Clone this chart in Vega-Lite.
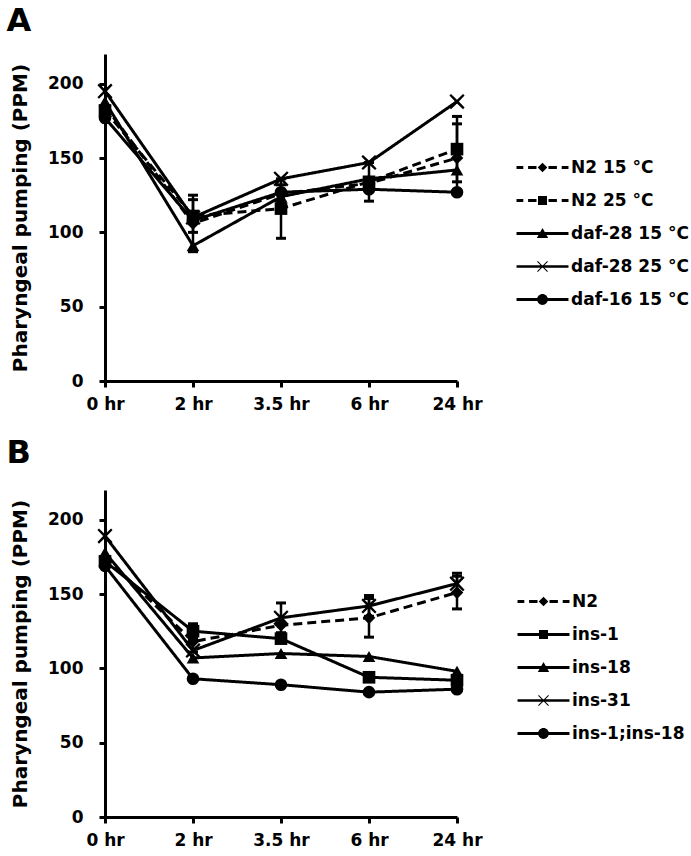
{
  "$schema": "https://vega.github.io/schema/vega-lite/v6.json",
  "padding": {"left": 6, "top": 5, "right": 5, "bottom": 5},
  "background": "white",
  "resolve": {"scale": {"strokeDash": "independent", "shape": "independent"}},
  "config": {
    "font": "DejaVu Sans",
    "view": {"stroke": null},
    "axis": {"domainColor": "black", "domainWidth": 3, "tickColor": "black", "tickWidth": 3, "tickSize": 6, "labelFont": "DejaVu Sans", "labelFontWeight": "bold", "labelFontSize": 17, "labelColor": "black", "titleFont": "DejaVu Sans", "titleFontWeight": "bold", "titleFontSize": 20, "titleColor": "black", "grid": false},
    "axisX": {"labelAngle": 0, "labelPadding": 9},
    "axisY": {"labelPadding": 16, "titlePadding": 17},
    "legend": {"labelFont": "DejaVu Sans", "labelFontWeight": "bold", "labelFontSize": 17, "labelColor": "black", "symbolSize": 144, "labelOffset": 20, "rowPadding": 15, "symbolFillColor": "black", "symbolStrokeWidth": 0, "symbolOpacity": 1},
    "concat": {"spacing": 25}
  },
  "datasets": {
    "a": [
      {"series": "N2 15 °C", "hr": "0 hr", "value": 185},
      {"series": "N2 15 °C", "hr": "2 hr", "value": 106, "lo": 87, "hi": 125},
      {"series": "N2 15 °C", "hr": "3.5 hr", "value": 126, "lo": 120, "hi": 132},
      {"series": "N2 15 °C", "hr": "6 hr", "value": 133},
      {"series": "N2 15 °C", "hr": "24 hr", "value": 150, "lo": 127, "hi": 173},
      {"series": "N2 25 °C", "hr": "0 hr", "value": 182},
      {"series": "N2 25 °C", "hr": "2 hr", "value": 111, "lo": 100, "hi": 122},
      {"series": "N2 25 °C", "hr": "3.5 hr", "value": 116, "lo": 96, "hi": 136},
      {"series": "N2 25 °C", "hr": "6 hr", "value": 134, "lo": 121, "hi": 147},
      {"series": "N2 25 °C", "hr": "24 hr", "value": 156, "lo": 134, "hi": 178},
      {"series": "daf-28 15 °C", "hr": "0 hr", "value": 188},
      {"series": "daf-28 15 °C", "hr": "2 hr", "value": 91},
      {"series": "daf-28 15 °C", "hr": "3.5 hr", "value": 124},
      {"series": "daf-28 15 °C", "hr": "6 hr", "value": 136},
      {"series": "daf-28 15 °C", "hr": "24 hr", "value": 142},
      {"series": "daf-28 25 °C", "hr": "0 hr", "value": 195},
      {"series": "daf-28 25 °C", "hr": "2 hr", "value": 110},
      {"series": "daf-28 25 °C", "hr": "3.5 hr", "value": 136},
      {"series": "daf-28 25 °C", "hr": "6 hr", "value": 147},
      {"series": "daf-28 25 °C", "hr": "24 hr", "value": 188},
      {"series": "daf-16 15 °C", "hr": "0 hr", "value": 177},
      {"series": "daf-16 15 °C", "hr": "2 hr", "value": 108},
      {"series": "daf-16 15 °C", "hr": "3.5 hr", "value": 127},
      {"series": "daf-16 15 °C", "hr": "6 hr", "value": 129},
      {"series": "daf-16 15 °C", "hr": "24 hr", "value": 127}
    ],
    "b": [
      {"series": "N2", "hr": "0 hr", "value": 175},
      {"series": "N2", "hr": "2 hr", "value": 118, "lo": 111, "hi": 125},
      {"series": "N2", "hr": "3.5 hr", "value": 129},
      {"series": "N2", "hr": "6 hr", "value": 134, "lo": 121, "hi": 147},
      {"series": "N2", "hr": "24 hr", "value": 151, "lo": 140, "hi": 162},
      {"series": "ins-1", "hr": "0 hr", "value": 172},
      {"series": "ins-1", "hr": "2 hr", "value": 125, "lo": 120, "hi": 130},
      {"series": "ins-1", "hr": "3.5 hr", "value": 120},
      {"series": "ins-1", "hr": "6 hr", "value": 94},
      {"series": "ins-1", "hr": "24 hr", "value": 92},
      {"series": "ins-18", "hr": "0 hr", "value": 178},
      {"series": "ins-18", "hr": "2 hr", "value": 107},
      {"series": "ins-18", "hr": "3.5 hr", "value": 110},
      {"series": "ins-18", "hr": "6 hr", "value": 108},
      {"series": "ins-18", "hr": "24 hr", "value": 98},
      {"series": "ins-31", "hr": "0 hr", "value": 189},
      {"series": "ins-31", "hr": "2 hr", "value": 112},
      {"series": "ins-31", "hr": "3.5 hr", "value": 134, "lo": 124, "hi": 144},
      {"series": "ins-31", "hr": "6 hr", "value": 142, "lo": 135, "hi": 149},
      {"series": "ins-31", "hr": "24 hr", "value": 157, "lo": 151, "hi": 164},
      {"series": "ins-1;ins-18", "hr": "0 hr", "value": 169},
      {"series": "ins-1;ins-18", "hr": "2 hr", "value": 93},
      {"series": "ins-1;ins-18", "hr": "3.5 hr", "value": 89},
      {"series": "ins-1;ins-18", "hr": "6 hr", "value": 84},
      {"series": "ins-1;ins-18", "hr": "24 hr", "value": 86}
    ]
  },
  "vconcat": [
    {
      "title": {"text": "A", "anchor": "start", "frame": "bounds", "fontSize": 32, "font": "DejaVu Sans", "fontWeight": "bold", "offset": 16, "dx": -4, "color": "black"},
      "width": 352, "height": 327,
      "data": {"name": "a"},
      "encoding": {
        "x": {"field": "hr", "type": "ordinal", "sort": ["0 hr", "2 hr", "3.5 hr", "6 hr", "24 hr"], "scale": {"type": "point", "padding": 0}, "axis": {"title": null}}
      },
      "layer": [
        {
          "mark": {"type": "line", "strokeWidth": 3, "color": "black"},
          "encoding": {
            "y": {"field": "value", "type": "quantitative", "title": "Pharyngeal pumping (PPM)", "scale": {"domain": [0, 220], "nice": false}, "axis": {"values": [0, 50, 100, 150, 200]}},
            "detail": {"field": "series"},
            "strokeDash": {"field": "series", "type": "nominal", "scale": {"domain": ["N2 15 °C", "N2 25 °C", "daf-28 15 °C", "daf-28 25 °C", "daf-16 15 °C"], "range": [[9, 5], [9, 5], [1, 0], [1, 0], [1, 0]]}, "legend": null}
          }
        },
        {
          "transform": [{"filter": "isValid(datum.hi)"}],
          "mark": {"type": "rule", "strokeWidth": 2.5, "color": "black"},
          "encoding": {
            "y": {"field": "lo", "type": "quantitative", "title": "Pharyngeal pumping (PPM)", "scale": {"domain": [0, 220], "nice": false}},
            "y2": {"field": "hi"}
          }
        },
        {
          "transform": [{"filter": "isValid(datum.hi)"}],
          "mark": {"type": "tick", "thickness": 3, "size": 10, "color": "black", "opacity": 1},
          "encoding": {"y": {"field": "hi", "type": "quantitative", "title": "Pharyngeal pumping (PPM)", "scale": {"domain": [0, 220], "nice": false}}}
        },
        {
          "transform": [{"filter": "isValid(datum.lo)"}],
          "mark": {"type": "tick", "thickness": 3, "size": 10, "color": "black", "opacity": 1},
          "encoding": {"y": {"field": "lo", "type": "quantitative", "title": "Pharyngeal pumping (PPM)", "scale": {"domain": [0, 220], "nice": false}}}
        },
        {
          "mark": {"type": "point", "filled": true, "color": "black", "size": 160, "opacity": 1},
          "encoding": {
            "y": {"field": "value", "type": "quantitative", "title": "Pharyngeal pumping (PPM)", "scale": {"domain": [0, 220], "nice": false}},
            "shape": {"field": "series", "type": "nominal", "scale": {"domain": ["N2 15 °C", "N2 25 °C", "daf-28 15 °C", "daf-28 25 °C", "daf-16 15 °C"], "range": ["diamond", "square", "triangle-up", "M-1.2,-0.95L-0.95,-1.2L0,-0.3L0.95,-1.2L1.2,-0.95L0.3,0L1.2,0.95L0.95,1.2L0,0.3L-0.95,1.2L-1.2,0.95L-0.3,0Z", "circle"]}, "legend": null}
          }
        },
        {
          "transform": [{"filter": "false"}],
          "mark": {"type": "point", "filled": true, "color": "black", "opacity": 1},
          "encoding": {
            "y": {"field": "value", "type": "quantitative", "title": "Pharyngeal pumping (PPM)", "scale": {"domain": [0, 220], "nice": false}},
            "shape": {"field": "series", "type": "nominal",
              "scale": {"domain": ["N2 15 °C", "N2 25 °C", "daf-28 15 °C", "daf-28 25 °C", "daf-16 15 °C"],
                "range": [
                  "M-4.33,-0.25H-3.2V0.25H-4.33Z M-2.4,-0.25H-1V0.25H-2.4Z M1,-0.25H2.4V0.25H1Z M3.2,-0.25H4.33V0.25H3.2Z M0,-0.8L0.8,0L0,0.8L-0.8,0Z",
                  "M-4.33,-0.25H-3.2V0.25H-4.33Z M-2.4,-0.25H-1V0.25H-2.4Z M1,-0.25H2.4V0.25H1Z M3.2,-0.25H4.33V0.25H3.2Z M-0.75,-0.75H0.75V0.75H-0.75Z",
                  "M-4.33,-0.25H4.33V0.25H-4.33Z M0,-0.9L0.95,0.75H-0.95Z",
                  "M-4.33,-0.2H4.33V0.2H-4.33Z M-0.9,-0.78L-0.78,-0.9L0,-0.12L0.78,-0.9L0.9,-0.78L0.12,0L0.9,0.78L0.78,0.9L0,0.12L-0.78,0.9L-0.9,0.78L-0.12,0Z",
                  "M-4.33,-0.25H4.33V0.25H-4.33Z M-0.9,0A0.9,0.9 0 1,1 0.9,0A0.9,0.9 0 1,1 -0.9,0Z"
                ]},
              "legend": {"title": null, "orient": "none", "legendX": 429, "legendY": 105}}
          }
        }
      ],
      "resolve": {"scale": {"shape": "independent"}}
    },
    {
      "title": {"text": "B", "anchor": "start", "frame": "bounds", "fontSize": 32, "font": "DejaVu Sans", "fontWeight": "bold", "offset": 20, "dx": -4, "color": "black"},
      "width": 352, "height": 327,
      "data": {"name": "b"},
      "encoding": {
        "x": {"field": "hr", "type": "ordinal", "sort": ["0 hr", "2 hr", "3.5 hr", "6 hr", "24 hr"], "scale": {"type": "point", "padding": 0}, "axis": {"title": null}}
      },
      "layer": [
        {
          "mark": {"type": "line", "strokeWidth": 3, "color": "black"},
          "encoding": {
            "y": {"field": "value", "type": "quantitative", "title": "Pharyngeal pumping (PPM)", "scale": {"domain": [0, 220], "nice": false}, "axis": {"values": [0, 50, 100, 150, 200]}},
            "detail": {"field": "series"},
            "strokeDash": {"field": "series", "type": "nominal", "scale": {"domain": ["N2", "ins-1", "ins-18", "ins-31", "ins-1;ins-18"], "range": [[9, 5], [1, 0], [1, 0], [1, 0], [1, 0]]}, "legend": null}
          }
        },
        {
          "transform": [{"filter": "isValid(datum.hi)"}],
          "mark": {"type": "rule", "strokeWidth": 2.5, "color": "black"},
          "encoding": {
            "y": {"field": "lo", "type": "quantitative", "title": "Pharyngeal pumping (PPM)", "scale": {"domain": [0, 220], "nice": false}},
            "y2": {"field": "hi"}
          }
        },
        {
          "transform": [{"filter": "isValid(datum.hi)"}],
          "mark": {"type": "tick", "thickness": 3, "size": 10, "color": "black", "opacity": 1},
          "encoding": {"y": {"field": "hi", "type": "quantitative", "title": "Pharyngeal pumping (PPM)", "scale": {"domain": [0, 220], "nice": false}}}
        },
        {
          "transform": [{"filter": "isValid(datum.lo)"}],
          "mark": {"type": "tick", "thickness": 3, "size": 10, "color": "black", "opacity": 1},
          "encoding": {"y": {"field": "lo", "type": "quantitative", "title": "Pharyngeal pumping (PPM)", "scale": {"domain": [0, 220], "nice": false}}}
        },
        {
          "mark": {"type": "point", "filled": true, "color": "black", "size": 160, "opacity": 1},
          "encoding": {
            "y": {"field": "value", "type": "quantitative", "title": "Pharyngeal pumping (PPM)", "scale": {"domain": [0, 220], "nice": false}},
            "shape": {"field": "series", "type": "nominal", "scale": {"domain": ["N2", "ins-1", "ins-18", "ins-31", "ins-1;ins-18"], "range": ["diamond", "square", "triangle-up", "M-1.2,-0.95L-0.95,-1.2L0,-0.3L0.95,-1.2L1.2,-0.95L0.3,0L1.2,0.95L0.95,1.2L0,0.3L-0.95,1.2L-1.2,0.95L-0.3,0Z", "circle"]}, "legend": null}
          }
        },
        {
          "transform": [{"filter": "false"}],
          "mark": {"type": "point", "filled": true, "color": "black", "opacity": 1},
          "encoding": {
            "y": {"field": "value", "type": "quantitative", "title": "Pharyngeal pumping (PPM)", "scale": {"domain": [0, 220], "nice": false}},
            "shape": {"field": "series", "type": "nominal",
              "scale": {"domain": ["N2", "ins-1", "ins-18", "ins-31", "ins-1;ins-18"],
                "range": [
                  "M-4.33,-0.25H-3.2V0.25H-4.33Z M-2.4,-0.25H-1V0.25H-2.4Z M1,-0.25H2.4V0.25H1Z M3.2,-0.25H4.33V0.25H3.2Z M0,-0.8L0.8,0L0,0.8L-0.8,0Z",
                  "M-4.33,-0.25H4.33V0.25H-4.33Z M-0.75,-0.75H0.75V0.75H-0.75Z",
                  "M-4.33,-0.25H4.33V0.25H-4.33Z M0,-0.9L0.95,0.75H-0.95Z",
                  "M-4.33,-0.2H4.33V0.2H-4.33Z M-0.9,-0.78L-0.78,-0.9L0,-0.12L0.78,-0.9L0.9,-0.78L0.12,0L0.9,0.78L0.78,0.9L0,0.12L-0.78,0.9L-0.9,0.78L-0.12,0Z",
                  "M-4.33,-0.25H4.33V0.25H-4.33Z M-0.9,0A0.9,0.9 0 1,1 0.9,0A0.9,0.9 0 1,1 -0.9,0Z"
                ]},
              "legend": {"title": null, "orient": "none", "legendX": 430, "legendY": 103}}
          }
        }
      ],
      "resolve": {"scale": {"shape": "independent"}}
    }
  ]
}
